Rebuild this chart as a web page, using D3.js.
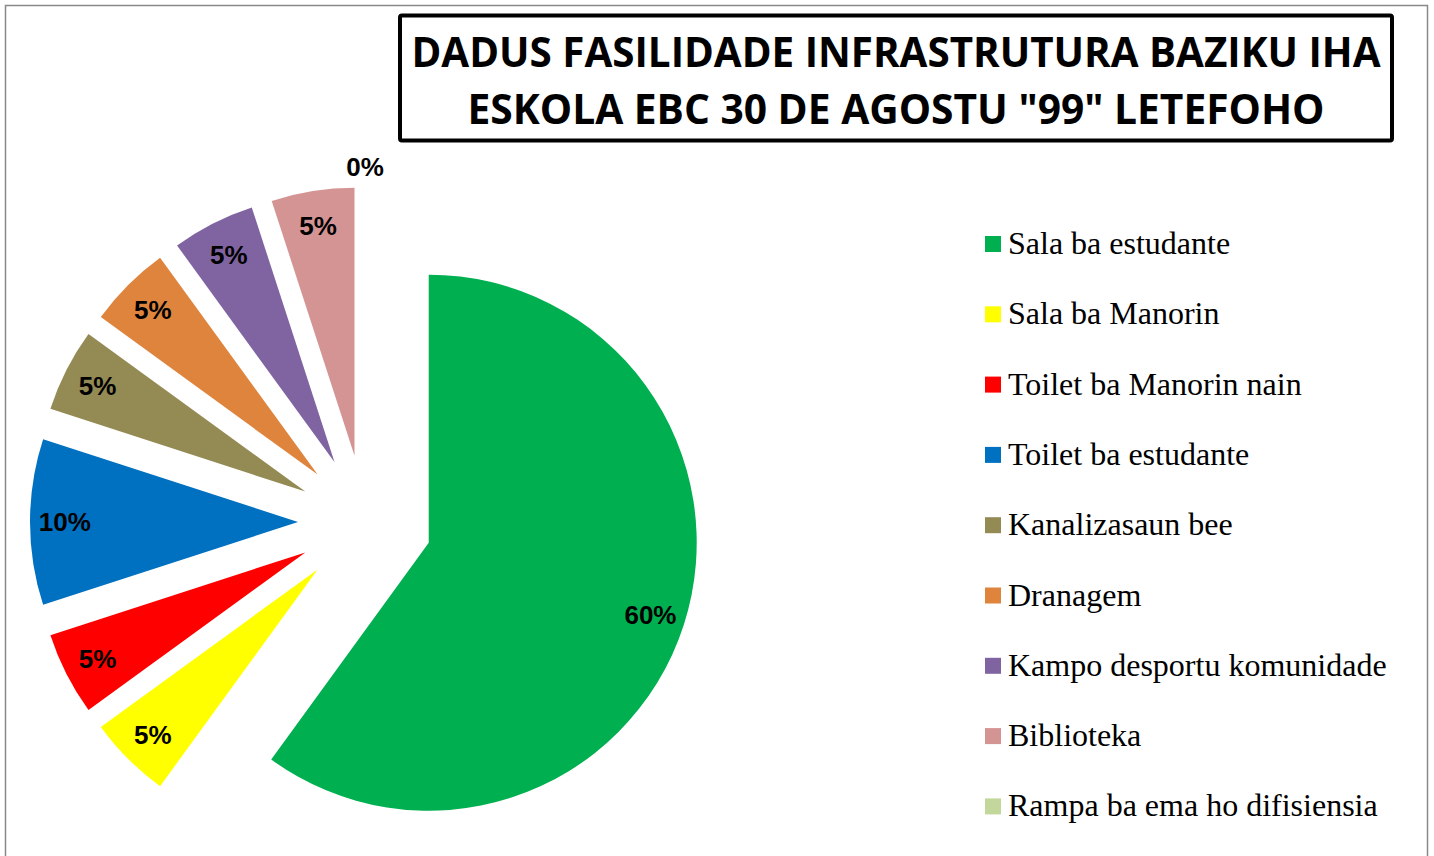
<!DOCTYPE html>
<html>
<head>
<meta charset="utf-8">
<script src="https://cdn.jsdelivr.net/npm/d3@7"></script>
<style>
  html, body { margin: 0; padding: 0; background: #fff; }
  svg { display: block; }
</style>
</head>
<body>
<svg id="chart" width="1434" height="856"></svg>
<script>
const titleLines = ["DADUS FASILIDADE INFRASTRUTURA BAZIKU IHA", "ESKOLA EBC 30 DE AGOSTU \"99\" LETEFOHO"];
const categories = ["Sala ba estudante", "Sala ba Manorin", "Toilet ba Manorin nain", "Toilet ba estudante",
  "Kanalizasaun bee", "Dranagem", "Kampo desportu komunidade", "Biblioteka", "Rampa ba ema ho difisiensia"];
const values = [60, 5, 5, 10, 5, 5, 5, 5, 0];
const colors = ["#00B050", "#FFFF00", "#FF0000", "#0070C0", "#948A54", "#DE843D", "#8064A2", "#D49494", "#C3D69B"];

const svg = d3.select("#chart");

// outer chart border
svg.append("rect").attr("x", 5.5).attr("y", 5.5).attr("width", 1422).attr("height", 870)
  .attr("fill", "#fff").attr("stroke", "#898989").attr("stroke-width", 1.5);

// title box
svg.append("rect").attr("x", 400).attr("y", 15.5).attr("width", 992).attr("height", 125)
  .attr("rx", 2).attr("fill", "#fff").attr("stroke", "#000").attr("stroke-width", 4);
const titleY = [67, 124];
const titleW = [969, 857];
titleLines.forEach((t, i) => {
  svg.append("text").attr("x", 896).attr("y", titleY[i]).attr("text-anchor", "middle")
    .attr("font-family", "'Open Sans', 'Liberation Sans', sans-serif").attr("font-weight", "bold")
    .attr("font-size", 42).attr("textLength", titleW[i]).attr("lengthAdjust", "spacingAndGlyphs")
    .attr("fill", "#000").text(t);
});

// pie
const cx = 365, cy = 522, R = 268, explode = 67;
const data = categories.map((c, i) => ({ name: c, value: values[i], color: colors[i] }));
const pie = d3.pie().sort(null).value(d => d.value).startAngle(0).endAngle(2 * Math.PI);
const arcs = pie(data);
const arc = d3.arc().innerRadius(0).outerRadius(R);
const g = svg.append("g").attr("transform", `translate(${cx},${cy})`);

arcs.forEach(a => {
  const mid = (a.startAngle + a.endAngle) / 2;
  const dx = Math.sin(mid) * explode, dy = -Math.cos(mid) * explode;
  if (a.data.value > 0) {
    g.append("path").attr("d", arc(a)).attr("fill", a.data.color)
      .attr("transform", `translate(${dx},${dy})`);
  }
  const ld = a.data.value > 0 ? 0.87 * R : R + 20;
  const lx = dx + Math.sin(mid) * ld, ly = dy - Math.cos(mid) * ld;
  g.append("text").attr("x", lx).attr("y", ly).attr("dy", "0.36em").attr("text-anchor", "middle")
    .attr("font-family", "'Liberation Sans', Arial, sans-serif").attr("font-weight", "bold")
    .attr("font-size", 26).attr("fill", "#000").text(a.data.value + "%");
});

// legend
const legY0 = 244, legStep = 70.3;
const leg = svg.append("g");
data.forEach((d, i) => {
  const y = legY0 + i * legStep;
  leg.append("rect").attr("x", 985).attr("y", y - 8).attr("width", 16).attr("height", 16).attr("fill", d.color);
  leg.append("text").attr("x", 1008).attr("y", y + 10)
    .attr("font-family", "'Liberation Serif', 'Times New Roman', serif")
    .attr("font-size", 32).attr("fill", "#000").text(d.name);
});
</script>
</body>
</html>
